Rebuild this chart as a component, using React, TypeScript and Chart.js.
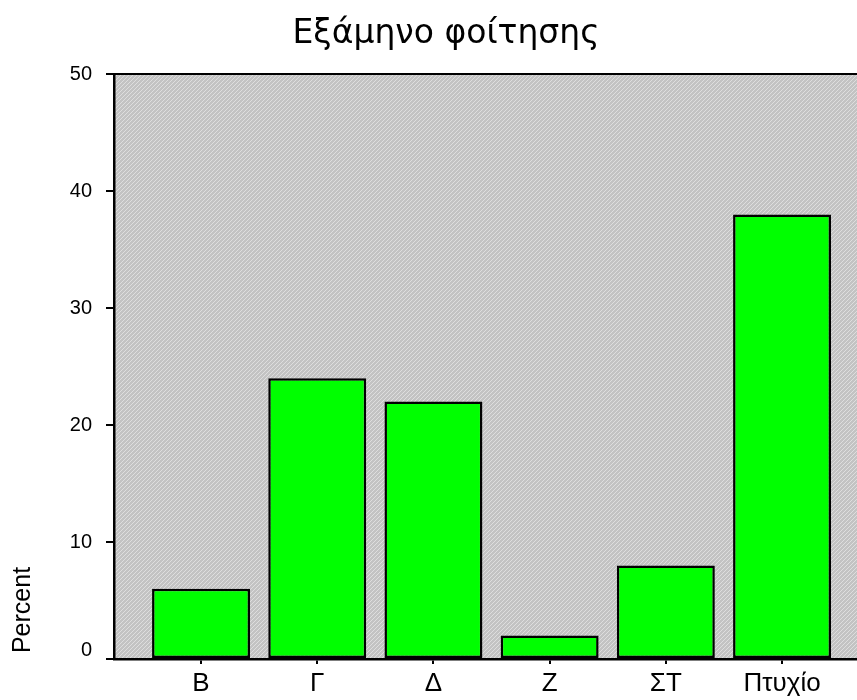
import React, { useEffect, useRef } from "react";
import { Chart, registerables } from "chart.js";

Chart.register(...registerables);

const categories: string[] = ["Β", "Γ", "Δ", "Ζ", "ΣΤ", "Πτυχίο"];
const percentValues: number[] = [6, 24, 22, 2, 8, 38];
const yTicks: number[] = [0, 10, 20, 30, 40, 50];
const titleText = "Εξάμηνο φοίτησης";
const yAxisTitle = "Percent";

const FONT = "'Liberation Sans', Arial, sans-serif";
const TITLE_FONT = "'DejaVu Sans', sans-serif";

function makePattern(): CanvasPattern | string {
  const c = document.createElement("canvas");
  c.width = 4;
  c.height = 4;
  const g = c.getContext("2d");
  if (!g) return "#c8c8c8";
  g.fillStyle = "#c3c3c3";
  g.fillRect(0, 0, 4, 4);
  g.fillStyle = "#dedede";
  for (let i = 0; i < 4; i++) g.fillRect(i, 3 - i, 1, 1);
  const p = g.createPattern(c, "repeat");
  return p || "#c8c8c8";
}

export default function App() {
  const ref = useRef<HTMLCanvasElement | null>(null);

  useEffect(() => {
    const canvas = ref.current;
    if (!canvas) return;
    const pattern = makePattern();

    const decor = {
      id: "decor",
      beforeDraw(chart: any) {
        const { ctx, chartArea: a } = chart;
        ctx.save();
        ctx.fillStyle = "#ffffff";
        ctx.fillRect(0, 0, chart.width, chart.height);
        ctx.fillStyle = pattern;
        ctx.fillRect(a.left, a.top, a.right - a.left, a.bottom - a.top);
        ctx.restore();
      },
      afterDraw(chart: any) {
        const { ctx, chartArea: a } = chart;
        const ys = chart.scales.y;
        ctx.save();
        // top border
        ctx.strokeStyle = "#000";
        ctx.lineWidth = 2;
        ctx.beginPath();
        ctx.moveTo(a.left - 1, a.top);
        ctx.lineTo(a.right, a.top);
        ctx.stroke();
        // zero label raised
        ctx.fillStyle = "#000";
        ctx.font = `20px ${FONT}`;
        ctx.textAlign = "right";
        ctx.textBaseline = "middle";
        ctx.fillText("0", a.left - 22, ys.getPixelForValue(0) - 9);
        // title
        ctx.font = `33px ${TITLE_FONT}`;
        ctx.textAlign = "center";
        ctx.textBaseline = "alphabetic";
        ctx.fillText(titleText, 446, 43);
        // y axis title
        ctx.translate(23, 610);
        ctx.rotate(-Math.PI / 2);
        ctx.font = `25px ${FONT}`;
        ctx.textAlign = "center";
        ctx.textBaseline = "middle";
        ctx.fillText(yAxisTitle, 0, 0);
        ctx.restore();
      },
    };

    const chart = new Chart(canvas, {
      type: "bar",
      data: {
        datasets: [
          {
            data: categories.map((c, i) => ({ x: i, y: percentValues[i] })),
            backgroundColor: "#00ff00",
            borderColor: "#000000",
            borderWidth: 2.5,
            borderSkipped: false,
            categoryPercentage: 1,
            barPercentage: 0.843,
          } as any,
        ],
      },
      options: {
        responsive: false,
        animation: false,
        layout: { padding: { top: 74, right: 0, left: 0, bottom: 0 } },
        plugins: {
          legend: { display: false },
          tooltip: { enabled: false },
          title: { display: false },
        },
        scales: {
          x: {
            type: "linear",
            offset: false,
            min: -0.749,
            max: 5.645,
            afterBuildTicks: (s: any) => {
              s.ticks = categories.map((_, i) => ({ value: i }));
            },
            afterFit: (s: any) => {
              s.height = 41;
            },
            border: { display: true, color: "#000", width: 2.5 },
            grid: {
              offset: false,
              drawOnChartArea: false,
              drawTicks: true,
              tickLength: 5,
              color: "#000",
              lineWidth: 2,
            },
            ticks: {
              autoSkip: false,
              maxRotation: 0,
              padding: 4,
              color: "#000",
              font: { family: FONT, size: 26 },
              callback: (v: any) => categories[Number(v)] ?? "",
            },
          },
          y: {
            min: 0,
            max: 50,
            afterBuildTicks: (s: any) => {
              s.ticks = yTicks.map((v) => ({ value: v }));
            },
            afterFit: (s: any) => {
              s.width = 114;
            },
            border: { display: true, color: "#000", width: 2.5 },
            grid: {
              drawOnChartArea: false,
              drawTicks: true,
              tickLength: 8,
              color: "#000",
              lineWidth: 2,
            },
            ticks: {
              padding: 14,
              color: "#000",
              font: { family: FONT, size: 20 },
              callback: (v: any) => (Number(v) === 0 ? "" : String(v)),
            },
          },
        },
      },
      plugins: [decor],
    } as any);

    return () => chart.destroy();
  }, []);

  return (
    <div style={{ position: "absolute", left: 0, top: 0, width: 857, height: 700 }}>
      <canvas ref={ref} width={857} height={700} />
    </div>
  );
}
